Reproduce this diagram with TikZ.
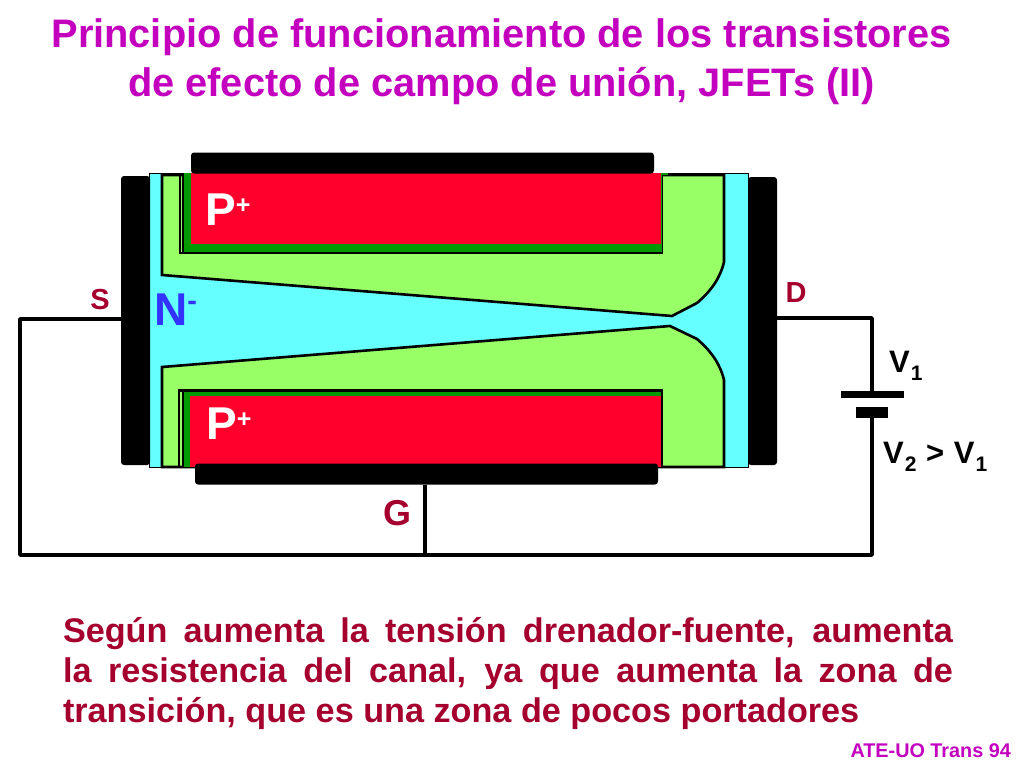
\documentclass[tikz,border=0pt]{standalone}
\usepackage{fontspec}
\setmainfont{Liberation Sans}
\usetikzlibrary{positioning}
\definecolor{titlemag}{RGB}{195,0,190}
\definecolor{textred}{RGB}{165,0,45}
\definecolor{ncyan}{RGB}{102,255,255}
\definecolor{depgreen}{RGB}{153,255,102}
\definecolor{dkgreen}{RGB}{0,153,0}
\definecolor{pred}{RGB}{255,0,45}
\definecolor{nblue}{RGB}{51,51,255}
\tikzset{
  plate/.style={fill=black,rounded corners=3pt,inner sep=0pt},
  batplate/.style={fill=black,inner sep=0pt},
  wire/.style={line width=3.5pt,line join=round},
  edgeline/.style={draw=black,line width=2.6pt,line join=miter},
  label/.style={font=\bfseries\fontsize{29}{29}\selectfont,text=textred,inner sep=0pt},
  vlabel/.style={font=\bfseries\fontsize{31}{31}\selectfont,inner sep=0pt,anchor=base west},
  region/.style={font=\bfseries\fontsize{46}{46}\selectfont,inner sep=0pt,anchor=base west}
}
\newcommand{\uppl}{\raisebox{12pt}{\fontsize{25}{25}\selectfont +}}
\newcommand{\lowsub}[1]{\kern1pt\raisebox{-8pt}{\fontsize{21}{21}\selectfont #1}}
\begin{document}
\begin{tikzpicture}[x=1pt,y=-1pt]
    \useasboundingbox (0,0) rectangle (1024,768);

    % channel and junction areas
    \fill[ncyan,draw=black,line width=0.5pt] (149,173) rectangle (748,467);
    \draw[edgeline,fill=depgreen] (162,175) -- (724,175) -- (724,262)
        .. controls (720,278) and (712,290) .. (697,303) -- (672,316) -- (162,275) -- cycle;
    \draw[edgeline,fill=depgreen] (162,367) -- (670,326) -- (697,339)
        .. controls (712,352) and (720,364) .. (724,380) -- (724,467) -- (162,467) -- cycle;
    % top P+
    \draw[edgeline] (180,175) -- (180,253) -- (662,253) -- (662,175);
    \draw[edgeline] (183,175) -- (183,253);
    \fill[dkgreen] (184,173) rectangle (662,252);
    \fill[dkgreen] (661,172.5) rectangle (668,175);
    \fill[pred] (191,173) rectangle (661,244);
    % bottom P+
    \draw[edgeline] (179,467) -- (179,390.5) -- (662,390.5) -- (662,467);
    \draw[edgeline] (183,467) -- (183,390.5);
    \fill[dkgreen] (184,391.5) rectangle (661,467);
    \fill[pred] (190,396) rectangle (661,467);

    % contacts
    \node[plate,minimum width=29,minimum height=289] (src) at (135.5,320.5) {};
    \node[plate,minimum width=29,minimum height=288] (drn) at (762.5,321) {};
    \node[plate,minimum width=463,minimum height=21] (gtop) at (422.5,163) {};
    \node[plate,minimum width=463,minimum height=21] (gbot) at (426.5,474) {};

    % battery
    \node[batplate,minimum width=63,minimum height=7] (batp) at (872,394.5) {};
    \node[batplate,minimum width=32,minimum height=11] (batn) at (872,412.5) {};

    % circuit
    \coordinate (cs) at (20,319);
    \coordinate (cd) at (872,318);
    \coordinate (cl) at (20,555);
    \coordinate (cr) at (872,555);
    \coordinate (cg) at (425,555);
    \draw[wire] (src.west |- cs) -- (cs) -- (cl) -- (cr) -- (batn.south);
    \draw[wire] (drn.east |- cd) -- (cd) -- (batp.north);
    \draw[wire] (gbot.south -| cg) -- (cg);

    % labels
    \node[region,text=white] (p1) at (205,225) {P\uppl};
    \node[region,text=white] (p2) at (206,439) {P\uppl};
    \node[region,text=nblue] (n1) at (154,325) {N\raisebox{15pt}{\fontsize{29}{29}\selectfont -}};
    \node[label] (ls) at (100,300) {S};
    \node[label] (ld) at (796,293) {D};
    \node[label,font=\bfseries\fontsize{36}{36}\selectfont] (lg) at (397.5,513) {G};
    \node[vlabel] (v1) at (889,372) {V\lowsub{1}};
    \node[vlabel] (v2) at (883,463) {V\lowsub{2}\kern1pt{} >\kern1pt{} V\lowsub{1}};

    % texts
    \node[inner sep=0pt,align=center,text=titlemag,font=\bfseries\fontsize{39.8}{48.5}\selectfont] (ttl) at (501.5,61.5)
        {Principio de funcionamiento de los transistores\\de efecto de campo de unión, JFETs (II)};
    \node[inner sep=0pt,text width=890pt,align=justify,text=textred,font=\bfseries\fontsize{34.2}{40}\selectfont] (txt) at (508,673.5)
        {Según aumenta la tensión drenador-fuente, aumenta\linebreak la resistencia del canal, ya que aumenta la zona de\linebreak transición, que es una zona de pocos portadores};
    \node[inner sep=0pt,anchor=base east,text=titlemag,font=\bfseries\fontsize{19.8}{20}\selectfont] (ftr) at (1011,757) {ATE-UO Trans 94};
\end{tikzpicture}
\end{document}
